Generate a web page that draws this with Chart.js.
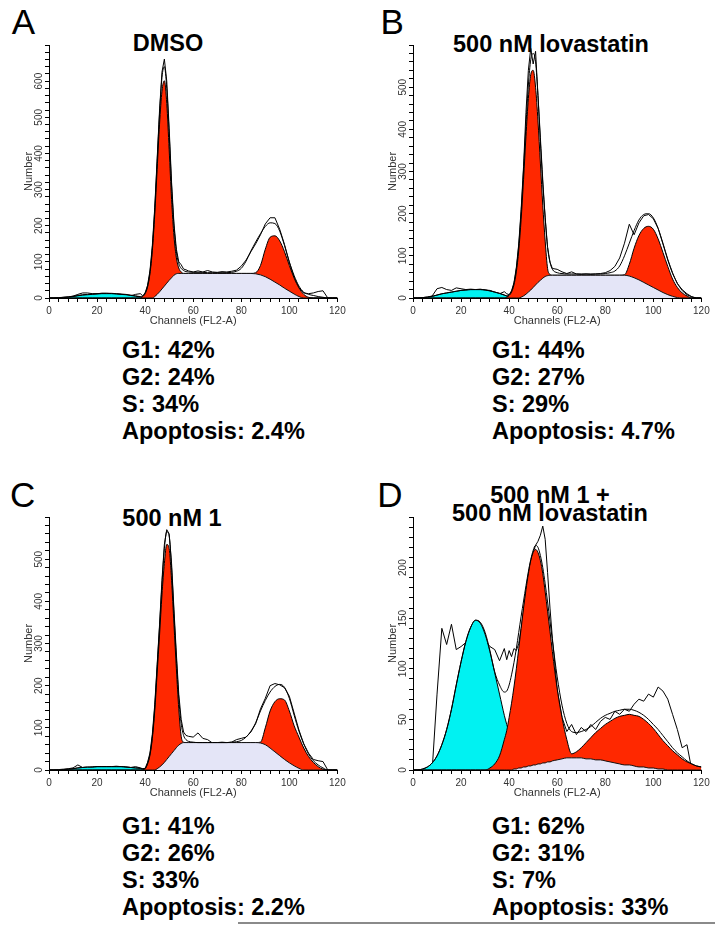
<!DOCTYPE html>
<html>
<head>
<meta charset="utf-8">
<title>Cell cycle histograms</title>
<script src="https://cdn.jsdelivr.net/npm/chart.js@4.4.1/dist/chart.umd.min.js"></script>
<style>
  html, body { margin: 0; padding: 0; background: #fff; }
  body { position: relative; width: 715px; height: 925px; overflow: hidden; font-family: 'Liberation Sans', Arial, sans-serif; color: #000; }
  canvas { position: absolute; }
  .letter { position: absolute; font-size: 35px; line-height: 35px; }
  .title { position: absolute; width: 300px; text-align: center; font-size: 23.5px; line-height: 23.5px; font-weight: bold; white-space: nowrap; }
  .stats { position: absolute; font-size: 23.5px; line-height: 27.1px; font-weight: bold; white-space: nowrap; }
  .rule { position: absolute; left: 238px; top: 922px; width: 477px; height: 2px; background: #8a8a8a; }
</style>
</head>
<body>

<div class="letter" style="left:11.7px; top:3.7px;">A</div>
<div class="letter" style="left:380.6px; top:3.7px;">B</div>
<div class="letter" style="left:10px; top:477.4px;">C</div>
<div class="letter" style="left:377.3px; top:477.4px;">D</div>

<div class="title" style="left:18px; top:32px;">DMSO</div>
<div class="title" style="left:401px; top:33px;">500 nM lovastatin</div>
<div class="title" style="left:22px; top:507px;">500 nM 1</div>
<div class="title" style="left:400px; top:485.5px; line-height:18.3px;">500 nM 1 +<br>500 nM lovastatin</div>

<canvas id="chartA" width="352" height="300" style="left:0px; top:30px;"></canvas>
<canvas id="chartB" width="352" height="300" style="left:364px; top:30px;"></canvas>
<canvas id="chartC" width="352" height="300" style="left:0px; top:502px;"></canvas>
<canvas id="chartD" width="352" height="300" style="left:364px; top:502px;"></canvas>

<div class="stats" style="left:122px; top:336.8px;">G1: 42%<br>G2: 24%<br>S: 34%<br>Apoptosis: 2.4%</div>
<div class="stats" style="left:492px; top:336.8px;">G1: 44%<br>G2: 27%<br>S: 29%<br>Apoptosis: 4.7%</div>
<div class="stats" style="left:122px; top:812.8px;">G1: 41%<br>G2: 26%<br>S: 33%<br>Apoptosis: 2.2%</div>
<div class="stats" style="left:492px; top:812.8px;">G1: 62%<br>G2: 31%<br>S: 7%<br>Apoptosis: 33%</div>

<div class="rule"></div>

<script>
// =========================================================================
// DATA - channel grid (FL2-A) and counts
// =========================================================================
// 2-channel steps, 1-channel steps around the G1 peaks
const CH = [
  0, 2, 4, 6, 8, 10, 12, 14, 16, 18, 20, 22, 24, 26, 28, 30, 32, 34, 36, 38,
  39, 40, 41, 42, 43, 44, 45, 46, 47, 48, 49, 50, 51, 52, 53, 54, 55, 56, 57, 58,
  60, 62, 64, 66, 68, 70, 72, 74, 76, 78, 80, 82, 84, 86, 88, 90, 92, 94, 96, 98,
  100, 102, 104, 106, 108, 110, 112, 114, 116, 118, 120
];

// A - DMSO
const dmsoRaw = [
  0, 0, 0, 2, 3, 5, 10, 14, 14, 12, 12, 13, 13, 12, 11, 10, 8, 6, 10, 12,
  6, 14, 35, 75, 145, 250, 385, 520, 625, 661, 600, 470, 320, 205, 135, 100, 92, 80, 78, 75,
  72, 75, 72, 76, 72, 71, 73, 72, 74, 77, 88, 105, 128, 150, 175, 205, 222, 222, 190, 148,
  98, 58, 28, 14, 12, 14, 18, 20, 0, 0, 0
];
const dmsoFit = [
  0, 0, 1, 2, 3, 5, 7, 9, 10, 11, 12, 13, 13, 13, 12, 11, 10, 8, 6, 4,
  5, 14, 33, 72, 140, 245, 378, 510, 610, 640, 580, 455, 310, 200, 128, 95, 82, 76, 73, 72,
  71, 71, 71, 70, 70, 70, 70, 70, 71, 74, 82, 102, 130, 155, 178, 198, 208, 206, 185, 145,
  100, 62, 33, 16, 10, 7, 4, 2, 0, 0, 0
];
const dmsoG = [
  0, 0, 0, 0, 0, 0, 0, 0, 0, 0, 0, 0, 0, 0, 0, 0, 0, 0, 0, 0,
  4, 12, 30, 67, 131, 231, 356, 481, 572, 601, 538, 410, 273, 171, 111, 83, 72, 68, 68, 68,
  68, 68, 68, 68, 68, 68, 68, 68, 68, 68, 68, 68, 68, 70, 90, 135, 168, 172, 158, 128,
  90, 55, 28, 10, 2, 0, 0, 0, 0, 0, 0
];
const dmsoS = [
  0, 0, 0, 0, 0, 0, 0, 0, 0, 0, 0, 0, 0, 0, 0, 0, 0, 0, 0, 0,
  0, 0, 0, 0, 0, 4, 10, 17, 25, 33, 41, 49, 56, 63, 67, 68, 68, 68, 68, 68,
  68, 68, 68, 68, 68, 68, 68, 68, 68, 68, 68, 68, 68, 67, 64, 59, 52, 44, 36, 27,
  19, 11, 4, 0, 0, 0, 0, 0, 0, 0, 0
];
const dmsoApo = [
  0, 0, 0, 1, 2, 4, 6, 8, 9, 10, 11, 12, 12, 12, 11, 10, 9, 7, 5, 3,
  1, 0, 0, 0, 0, 0, 0, 0, 0, 0, 0, 0, 0, 0, 0, 0, 0, 0, 0, 0,
  0, 0, 0, 0, 0, 0, 0, 0, 0, 0, 0, 0, 0, 0, 0, 0, 0, 0, 0, 0,
  0, 0, 0, 0, 0, 0, 0, 0, 0, 0, 0
];

// B - 500 nM lovastatin
const lovRaw = [
  0, 0, 1, 2, 5, 22, 25, 20, 18, 24, 22, 20, 21, 20, 21, 19, 18, 14, 10, 15,
  10, 8, 17, 36, 72, 128, 210, 312, 440, 540, 592, 555, 585, 480, 370, 270, 190, 120, 85, 70,
  68, 62, 58, 62, 57, 56, 57, 56, 57, 58, 60, 65, 75, 95, 130, 175, 150, 178, 195, 198,
  188, 165, 128, 90, 58, 34, 20, 10, 3, 0, 0
];
const lovFit = [
  0, 0, 1, 2, 4, 7, 10, 12, 14, 16, 18, 19, 20, 20, 20, 19, 17, 14, 11, 7,
  5, 7, 16, 35, 70, 125, 205, 305, 410, 505, 565, 580, 560, 480, 380, 280, 190, 120, 85, 68,
  60, 58, 57, 57, 57, 57, 57, 57, 57, 57, 58, 60, 64, 76, 100, 130, 160, 185, 198, 200,
  190, 165, 130, 92, 60, 35, 18, 8, 3, 0, 0
];
const lovG = [
  0, 0, 0, 0, 0, 0, 0, 0, 0, 0, 0, 0, 0, 0, 0, 0, 0, 0, 0, 0,
  2, 6, 14, 31, 62, 113, 187, 281, 383, 473, 530, 540, 500, 420, 320, 220, 135, 70, 56, 54,
  54, 54, 54, 54, 54, 54, 54, 54, 54, 54, 54, 54, 54, 54, 55, 80, 118, 148, 165, 170,
  163, 140, 108, 75, 45, 25, 12, 5, 0, 0, 0
];
const lovS = [
  0, 0, 0, 0, 0, 0, 0, 0, 0, 0, 0, 0, 0, 0, 0, 0, 0, 0, 0, 0,
  0, 0, 0, 0, 0, 0, 2, 5, 9, 14, 19, 25, 31, 37, 42, 47, 51, 53, 54, 54,
  54, 54, 54, 54, 54, 54, 54, 54, 54, 54, 54, 54, 54, 54, 54, 52, 48, 43, 37, 31,
  25, 19, 13, 8, 4, 1, 0, 0, 0, 0, 0
];
const lovApo = [
  0, 0, 1, 2, 4, 7, 10, 12, 14, 16, 18, 19, 20, 20, 20, 19, 17, 14, 11, 7,
  5, 3, 1, 0, 0, 0, 0, 0, 0, 0, 0, 0, 0, 0, 0, 0, 0, 0, 0, 0,
  0, 0, 0, 0, 0, 0, 0, 0, 0, 0, 0, 0, 0, 0, 0, 0, 0, 0, 0, 0,
  0, 0, 0, 0, 0, 0, 0, 0, 0, 0, 0
];

// C - 500 nM 1
const oneRaw = [
  0, 0, 1, 2, 3, 5, 12, 6, 5, 7, 8, 8, 8, 8, 9, 8, 7, 6, 8, 5,
  3, 4, 18, 40, 85, 155, 250, 345, 450, 535, 570, 560, 490, 380, 275, 180, 120, 90, 82, 80,
  78, 88, 75, 72, 64, 65, 66, 65, 66, 72, 75, 78, 90, 110, 145, 170, 200, 205, 202, 195,
  175, 135, 95, 62, 40, 25, 22, 20, 0, 0, 0
];
const oneFit = [
  0, 0, 0, 1, 2, 3, 5, 6, 7, 7, 8, 8, 8, 8, 8, 8, 7, 6, 5, 4,
  3, 4, 16, 38, 80, 150, 245, 340, 440, 525, 565, 555, 480, 370, 265, 170, 110, 82, 72, 68,
  66, 65, 65, 65, 65, 65, 65, 65, 66, 67, 70, 78, 92, 112, 140, 165, 185, 198, 203, 196,
  170, 130, 92, 62, 38, 22, 12, 5, 0, 0, 0
];
const oneG = [
  0, 0, 0, 0, 0, 0, 0, 0, 0, 0, 0, 0, 0, 0, 0, 0, 0, 0, 0, 0,
  0, 3, 14, 35, 75, 140, 230, 320, 415, 490, 535, 525, 450, 345, 240, 145, 80, 66, 65, 65,
  65, 65, 65, 65, 65, 65, 65, 65, 65, 65, 65, 65, 65, 65, 66, 100, 140, 162, 169, 166,
  140, 105, 78, 52, 32, 18, 8, 2, 0, 0, 0
];
const oneS = [
  0, 0, 0, 0, 0, 0, 0, 0, 0, 0, 0, 0, 0, 0, 0, 0, 0, 0, 0, 0,
  0, 0, 0, 0, 0, 0, 3, 7, 12, 18, 25, 32, 39, 46, 53, 59, 63, 65, 65, 65,
  65, 65, 65, 65, 65, 65, 65, 65, 65, 65, 65, 65, 65, 65, 64, 60, 52, 43, 34, 25,
  17, 10, 4, 0, 0, 0, 0, 0, 0, 0, 0
];
const oneApo = [
  0, 0, 0, 1, 2, 3, 5, 6, 7, 7, 8, 8, 8, 8, 8, 8, 7, 6, 5, 4,
  2, 0, 0, 0, 0, 0, 0, 0, 0, 0, 0, 0, 0, 0, 0, 0, 0, 0, 0, 0,
  0, 0, 0, 0, 0, 0, 0, 0, 0, 0, 0, 0, 0, 0, 0, 0, 0, 0, 0, 0,
  0, 0, 0, 0, 0, 0, 0, 0, 0, 0, 0
];

// D - 500 nM 1 + 500 nM lovastatin
const comboRaw = [
  0, 0, 0, 0, 1, 75, 140, 124, 144, 119, 122, 126, 132, 138, 135, 128, 122, 119, 108, 120,
  109, 118, 112, 120, 118, 125, 140, 158, 175, 190, 205, 215, 222, 226, 232, 241, 228, 195, 160, 130,
  80, 52, 38, 45, 35, 42, 38, 45, 40, 48, 52, 50, 58, 55, 60, 58, 65, 70, 68, 75,
  72, 82, 78, 70, 55, 40, 22, 25, 0, 0, 0
];
const comboFit = [
  0, 0, 1, 3, 7, 14, 25, 40, 60, 84, 107, 127, 141, 148, 146, 136, 118, 97, 84, 77,
  78, 84, 94, 106, 120, 136, 152, 167, 182, 196, 208, 217, 222, 220, 212, 200, 184, 166, 147, 128,
  92, 64, 46, 38, 37, 38, 40, 43, 47, 51, 54, 56, 58, 59, 60, 60, 59, 57, 54, 50,
  45, 40, 34, 28, 22, 17, 13, 9, 6, 4, 3
];
const comboG = [
  0, 0, 0, 0, 0, 0, 0, 0, 0, 0, 0, 0, 0, 0, 0, 0, 2, 6, 14, 30,
  39, 52, 66, 82, 100, 120, 140, 160, 178, 194, 207, 215, 218, 215, 207, 194, 176, 157, 137, 117,
  80, 52, 30, 16, 18, 22, 27, 32, 37, 41, 45, 48, 51, 53, 54, 55, 54, 53, 50, 46,
  41, 35, 29, 24, 19, 15, 11, 8, 6, 4, 3
];
const comboS = [
  0, 0, 0, 0, 0, 0, 0, 0, 0, 0, 0, 0, 0, 0, 0, 0, 0, 0, 0, 0,
  0, 0, 0, 1, 1, 2, 2, 3, 3, 4, 4, 5, 5, 6, 6, 7, 7, 8, 8, 9,
  10, 11, 12, 12, 12, 12, 11, 11, 10, 10, 9, 8, 7, 6, 5, 5, 4, 3, 3, 2,
  2, 1, 1, 0, 0, 0, 0, 0, 0, 0, 0
];
const comboApo = [
  0, 0, 1, 3, 7, 14, 25, 40, 60, 84, 107, 127, 141, 148, 145, 134, 117, 96, 75, 54,
  45, 37, 30, 24, 19, 15, 11, 9, 6, 5, 3, 2, 1, 1, 0, 0, 0, 0, 0, 0,
  0, 0, 0, 0, 0, 0, 0, 0, 0, 0, 0, 0, 0, 0, 0, 0, 0, 0, 0, 0,
  0, 0, 0, 0, 0, 0, 0, 0, 0, 0, 0
];

// =========================================================================
// STYLE
// =========================================================================
const RED = 'rgb(255, 40, 0)';
const CYAN = 'rgb(0, 242, 242)';
const LAVENDER = 'rgb(228, 229, 247)';
const AXIS_TEXT = '#333';

Chart.defaults.font.family = "'Liberation Sans', Arial, sans-serif";

function toPoints(vals) {
    return CH.map((c, i) => ({ x: c, y: vals[i] }));
}

// =========================================================================
// PANEL
// =========================================================================
function drawPanel(canvasId, raw, fit, g, s, apo, yMax, yStep, yLabelStep) {
    const ctx = document.getElementById(canvasId).getContext('2d');

    return new Chart(ctx, {
        type: 'line',
        data: {
            datasets: [
                // order: lower number is painted on top
                { label: 'Fit', data: toPoints(fit), order: 0, borderColor: '#000', borderWidth: 1,
                  fill: false, cubicInterpolationMode: 'monotone' },
                { label: 'S', data: toPoints(s), order: 1, borderColor: '#111', borderWidth: 1,
                  backgroundColor: LAVENDER, fill: 'origin', cubicInterpolationMode: 'monotone' },
                { label: 'G1 / G2', data: toPoints(g), order: 2, borderColor: '#000', borderWidth: 1,
                  backgroundColor: RED, fill: 'origin', cubicInterpolationMode: 'monotone' },
                { label: 'Apoptosis', data: toPoints(apo), order: 3, borderColor: '#000', borderWidth: 1,
                  backgroundColor: CYAN, fill: 'origin', cubicInterpolationMode: 'monotone' },
                { label: 'Data', data: toPoints(raw), order: 4, borderColor: '#000', borderWidth: 1,
                  fill: false, tension: 0 }
            ]
        },
        options: {
            responsive: false,
            animation: false,
            devicePixelRatio: 1,
            layout: { padding: { left: 0, top: 15, right: 14.6, bottom: 0 } },
            elements: { point: { radius: 0 } },
            plugins: {
                legend: { display: false },
                tooltip: { enabled: false }
            },
            scales: {
                x: {
                    type: 'linear',
                    min: 0,
                    max: 120,
                    afterFit: (scale) => { scale.height = 32; },
                    ticks: {
                        stepSize: 4,
                        autoSkip: false,
                        maxRotation: 0,
                        padding: 3,
                        color: AXIS_TEXT,
                        font: { size: 10 },
                        callback: (v) => (v % 20 === 0 ? String(v) : '')
                    },
                    grid: { drawOnChartArea: false, tickLength: 4, tickColor: '#000' },
                    border: { color: '#000', width: 1 },
                    title: {
                        display: true,
                        text: 'Channels (FL2-A)',
                        color: AXIS_TEXT,
                        font: { size: 11 },
                        padding: { top: 0, bottom: 2.6 }
                    }
                },
                y: {
                    min: 0,
                    max: yMax,
                    afterFit: (scale) => { scale.width = 49; },
                    ticks: {
                        stepSize: yStep,
                        autoSkip: false,
                        minRotation: 90,
                        maxRotation: 90,
                        crossAlign: 'center',
                        padding: -3,
                        color: AXIS_TEXT,
                        font: { size: 10 },
                        callback: (v) => (v % yLabelStep === 0 && v !== yMax ? String(v) : '')
                    },
                    grid: { drawOnChartArea: false, tickLength: 4, tickColor: '#000' },
                    border: { color: '#000', width: 1 },
                    title: {
                        display: true,
                        text: 'Number',
                        color: AXIS_TEXT,
                        font: { size: 11 },
                        padding: { top: 22.4, bottom: 0 }
                    }
                }
            }
        }
    });
}

drawPanel('chartA', dmsoRaw, dmsoFit, dmsoG, dmsoS, dmsoApo, 700, 20, 100);
drawPanel('chartB', lovRaw, lovFit, lovG, lovS, lovApo, 600, 20, 100);
drawPanel('chartC', oneRaw, oneFit, oneG, oneS, oneApo, 600, 20, 100);
drawPanel('chartD', comboRaw, comboFit, comboG, comboS, comboApo, 250, 10, 50);
</script>
</body>
</html>
